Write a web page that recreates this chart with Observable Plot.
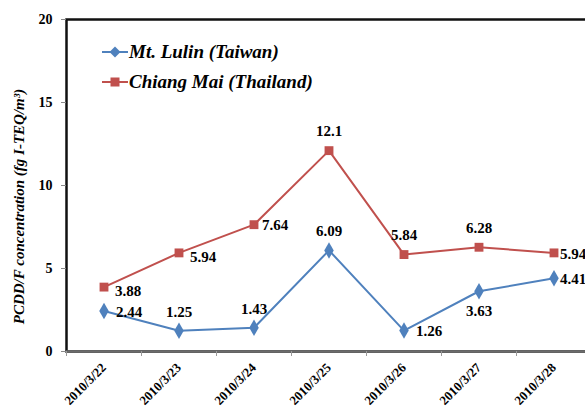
<!DOCTYPE html>
<html><head><meta charset="utf-8">
<script src="https://cdn.jsdelivr.net/npm/d3@7"></script>
<script src="https://cdn.jsdelivr.net/npm/@observablehq/plot@0.6"></script>
<style>
html,body{margin:0;padding:0;background:#fff;overflow:hidden;width:585px;height:414px}
#chart{position:relative;width:585px;height:414px;overflow:hidden}
#chart svg{max-width:none !important;width:600px;height:414px;display:block}
.legend{position:absolute;left:102px;font-family:'Liberation Serif','Times New Roman',serif;font-weight:bold;font-style:italic;font-size:19px;line-height:22px;display:flex;align-items:center;white-space:nowrap;color:#000}
.legend svg{width:26px !important;height:22px !important;margin-right:1px}
</style></head><body><div id="chart"></div>
<script>
// ---- data ----
const dates = ["2010/3/22","2010/3/23","2010/3/24","2010/3/25","2010/3/26","2010/3/27","2010/3/28"];
const lulin = [2.44, 1.25, 1.43, 6.09, 1.26, 3.63, 4.41];
const chiangMai = [3.88, 5.94, 7.64, 12.1, 5.84, 6.28, 5.94];
const seriesNames = ["Mt. Lulin (Taiwan)", "Chiang Mai (Thailand)"];
const yTicks = [0, 5, 10, 15, 20];
const yTitle = "PCDD/F concentration (fg I-TEQ/m³)";

// ---- presentation ----
const FONT = "'Liberation Serif','Times New Roman',serif";
const colors = ["#4F81BD", "#C0504D"];
const symbols = ["diamond", "square"];
const lulinPlace = ["right", "above", "above", "above", "right", "below", "rightEdge"];
const chiangPlace = ["rightLow", "rightLow", "rightNear", "above", "above", "above", "rightEdge"];

const rows = [];
dates.forEach((d, i) => {
  rows.push({i, date: d, value: lulin[i], s: 0, place: lulinPlace[i]});
  rows.push({i, date: d, value: chiangMai[i], s: 1, place: chiangPlace[i]});
});
const fmt = v => String(v);

const placeOpts = {
  right: {dx: 12, dy: 1, textAnchor: "start"},
  rightNear: {dx: 8, dy: 1, textAnchor: "start"},
  rightEdge: {dx: 6, dy: 1, textAnchor: "start"},
  rightLow: {dx: 11, dy: 4, textAnchor: "start"},
  above: {dx: 0, dy: -19, textAnchor: "middle"},
  below: {dx: 0, dy: 20, textAnchor: "middle"}
};

const marks = [
  Plot.frame({stroke: "#111", strokeWidth: 2.5}),
  Plot.ruleY([0], {stroke: "#6b6b6b", strokeWidth: 2.5}),
  Plot.axisY(yTicks, {tickSize: 5, tickPadding: 9, fontSize: 14, stroke: "#888", label: null}),
  Plot.axisX(d3.range(dates.length + 1).map(i => i - 0.5), {tickSize: 5, tickFormat: () => "", stroke: "#999", label: null}),
  Plot.axisX(d3.range(dates.length), {tickSize: 0, tickPadding: 14, tickRotate: -45, fontSize: 13, tickFormat: i => dates[i], label: null}),
  Plot.text([yTitle], {frameAnchor: "left", textAnchor: "middle", rotate: -90, dx: -47, dy: 21, fontSize: 15, fontStyle: "italic", fontWeight: "bold", text: d => d})
];
[0, 1].forEach(s => {
  const sub = rows.filter(r => r.s === s);
  marks.push(Plot.line(sub, {x: "i", y: "value", stroke: colors[s], strokeWidth: 2}));
  marks.push(Plot.dot(sub, {x: "i", y: "value", symbol: symbols[s], fill: colors[s], r: 5, stroke: null}));
});
Object.entries(placeOpts).forEach(([k, o]) => {
  marks.push(Plot.text(rows.filter(r => r.place === k), {x: "i", y: "value", text: r => fmt(r.value), fontSize: 15, fill: "#000", ...o}));
});

const chart = Plot.plot({
  width: 600, height: 414,
  marginLeft: 66, marginRight: 9, marginTop: 19, marginBottom: 63,
  x: {type: "linear", domain: [-0.5, dates.length - 0.5]},
  y: {domain: [0, 20]},
  style: {fontFamily: FONT, fontWeight: "bold", color: "#000", background: "white", overflow: "visible", maxWidth: "none"},
  marks
});
const host = document.getElementById("chart");
host.appendChild(chart);

// legend
const legendTops = [41, 71];
seriesNames.forEach((name, s) => {
  const div = document.createElement("div");
  div.className = "legend";
  div.style.top = legendTops[s] + "px";
  const sym = s === 0
    ? `<polygon points="13,5.5 18.5,11 13,16.5 7.5,11" fill="${colors[s]}"/>`
    : `<rect x="8.5" y="6.5" width="9" height="9" fill="${colors[s]}"/>`;
  div.innerHTML = `<svg width="26" height="22"><line x1="0" x2="26" y1="11" y2="11" stroke="${colors[s]}" stroke-width="2"/>${sym}</svg><span>${name}</span>`;
  host.appendChild(div);
});
</script>
</body></html>
